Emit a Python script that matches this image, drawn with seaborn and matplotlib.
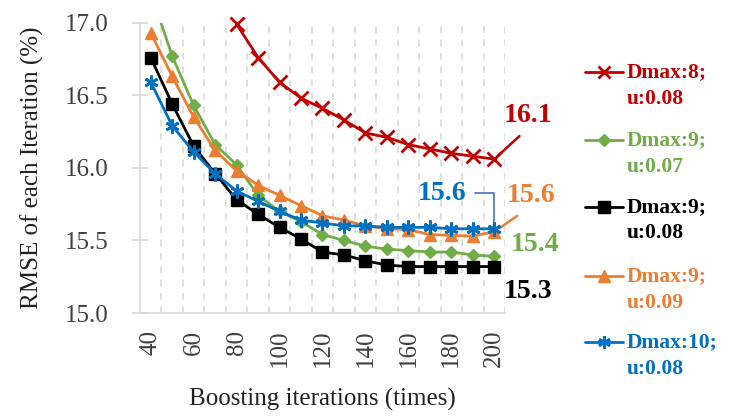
import numpy as np
import pandas as pd
import matplotlib
matplotlib.use("Agg")
import matplotlib.pyplot as plt
from matplotlib.lines import Line2D
import seaborn as sns

# ---- data ----
iterations = [40, 50, 60, 70, 80, 90, 100, 110, 120, 130, 140, 150, 160, 170, 180, 190, 200]
red_iter = [80, 90, 100, 110, 120, 130, 140, 150, 160, 170, 180, 190, 200]
red_d8_u008 = [16.99, 16.76, 16.59, 16.48, 16.41, 16.33, 16.24, 16.21, 16.16, 16.13, 16.10, 16.08, 16.06]
green_d9_u007 = [17.21, 16.77, 16.43, 16.16, 16.02, 15.81, 15.70, 15.63, 15.54, 15.50, 15.46, 15.44, 15.43, 15.42, 15.42, 15.40, 15.39]
black_d9_u008 = [16.76, 16.44, 16.15, 15.96, 15.78, 15.68, 15.59, 15.51, 15.42, 15.40, 15.36, 15.33, 15.32, 15.32, 15.32, 15.32, 15.32]
orange_d9_u009 = [16.93, 16.63, 16.35, 16.12, 15.98, 15.88, 15.81, 15.74, 15.67, 15.64, 15.60, 15.58, 15.575, 15.54, 15.535, 15.53, 15.56]
blue_d10_u008 = [16.59, 16.29, 16.11, 15.96, 15.84, 15.77, 15.70, 15.64, 15.62, 15.60, 15.60, 15.59, 15.59, 15.59, 15.58, 15.58, 15.58]

labels = ["Dmax:8;\nu:0.08", "Dmax:9;\nu:0.07", "Dmax:9;\nu:0.08", "Dmax:9;\nu:0.09", "Dmax:10;\nu:0.08"]
xticks = [40, 60, 80, 100, 120, 140, 160, 180, 200]
yticks = [15.0, 15.5, 16.0, 16.5, 17.0]

colors = ["#C00000", "#70AD47", "#000000", "#ED7D31", "#0070C0"]
markers = ["x", "D", "s", "^", (6, 2, 0)]
msizes = [10, 6.5, 9, 9, 10]
mews = [2.0, 1.0, 1.0, 1.0, 2.0]

series = [
    (red_iter, red_d8_u008),
    (iterations, green_d9_u007),
    (iterations, black_d9_u008),
    (iterations, orange_d9_u009),
    (iterations, blue_d10_u008),
]

sns.set_theme(style="white")
plt.rcParams["font.family"] = ["Liberation Serif", "DejaVu Serif"]

fig = plt.figure(figsize=(7.29, 4.16), dpi=100)
ax = fig.add_axes([140 / 729, 1 - 313 / 416, 365 / 729, (313 - 22.7) / 416])

for i, ((xs, ys), c, m, ms, mew) in enumerate(zip(series, colors, markers, msizes, mews)):
    df = pd.DataFrame({"x": xs, "y": ys})
    sns.lineplot(data=df, x="x", y="y", ax=ax, color=c, marker=m, markersize=ms,
                 markeredgewidth=mew, markeredgecolor=c, markerfacecolor=c,
                 linewidth=2.0, clip_on=(i == 1), zorder=3 + i)

ax.set_xlim(35, 205)
ax.set_ylim(15.0, 17.0)
ax.set_xticks(xticks)
ax.set_xticklabels([str(t) for t in xticks], rotation=90)
ax.set_yticks(yticks)
ax.set_yticklabels([f"{t:.1f}" for t in yticks])

# dashed vertical grid at category boundaries
for b in np.arange(45, 206, 10):
    ax.axvline(b, color="#D9D9D9", linestyle=(0, (4, 4)), linewidth=1.2, zorder=1)

for s in ["top", "right"]:
    ax.spines[s].set_visible(False)
for s in ["left", "bottom"]:
    ax.spines[s].set_color("#D9D9D9")
    ax.spines[s].set_linewidth(1.2)

ax.tick_params(axis="x", length=0, pad=12, labelsize=18, labelcolor="#404040")
ax.tick_params(axis="y", direction="inout", length=11, width=1.2, color="#D9D9D9",
               pad=17, labelsize=18, labelcolor="#404040", left=True)

ax.set_xlabel("Boosting iterations (times)", fontsize=18, color="#222222", labelpad=15)
ax.set_ylabel("RMSE of each Iteration (%)", fontsize=18, color="#222222", labelpad=15)

# data labels on last points
last = [ys[-1] for _, ys in series]
lab_kw = dict(fontsize=20, fontweight="bold", ha="center", va="center", annotation_clip=False)
ax.annotate(f"{last[0]:.1f}", xy=(200, last[0]), xytext=(215.8, 16.36), color=colors[0],
            arrowprops=dict(arrowstyle="-", color=colors[0], lw=1.8, shrinkA=5, shrinkB=3,
                            relpos=(0.5, 0.0)), **lab_kw)
ax.annotate(f"{last[3]:.1f}", xy=(200, last[3]), xytext=(217.2, 15.81), color=colors[3],
            arrowprops=dict(arrowstyle="-", color=colors[3], lw=1.8, shrinkA=6, shrinkB=3,
                            relpos=(0.45, 0.0)), **lab_kw)
ax.annotate(f"{last[4]:.1f}", xy=(200, last[4]), xytext=(175.7, 15.826), color=colors[4],
            arrowprops=dict(arrowstyle="-", color="#4472C4", lw=1.2, shrinkA=4, shrinkB=3,
                            connectionstyle="angle,angleA=0,angleB=90,rad=0"), **lab_kw)
ax.annotate(f"{last[1]:.1f}", xy=(200, last[1]), xytext=(219.1, 15.47), color=colors[1], **lab_kw)
ax.annotate(f"{last[2]:.1f}", xy=(200, last[2]), xytext=(215.8, 15.15), color=colors[2], **lab_kw)

# legend (manual, two-line entries, handle aligned with first line)
W, H = 729, 416
leg_y = [72, 140, 207, 276, 342]
for lab, c, m, ms, mew, yy in zip(labels, colors, markers, msizes, mews, leg_y):
    yf = 1 - yy / H
    fig.add_artist(Line2D([585 / W, 623 / W], [yf, yf], color=c, linewidth=2.0, transform=fig.transFigure))
    fig.add_artist(Line2D([604 / W], [yf], color=c, marker=m, markersize=ms * 0.9, markeredgewidth=mew,
                          markerfacecolor=c, markeredgecolor=c, transform=fig.transFigure))
    l1, l2 = lab.split("\n")
    fig.text(627 / W, yf, l1, color=c, fontsize=15.5, fontweight="bold", ha="left", va="center")
    fig.text(627 / W, 1 - (yy + 26.5) / H, l2, color=c, fontsize=15.5, fontweight="bold", ha="left", va="center")

fig.savefig("out.png", dpi=100)
